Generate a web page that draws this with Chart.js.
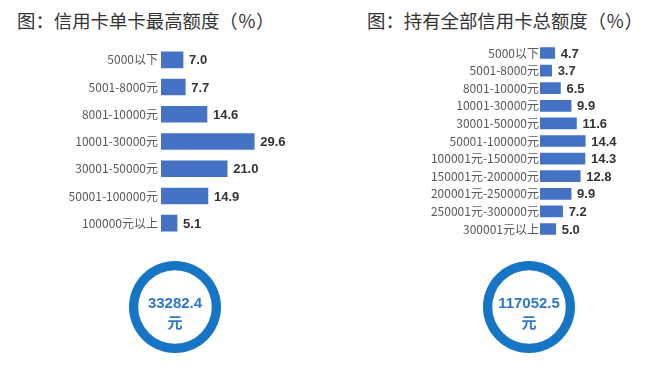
<!DOCTYPE html>
<html>
<head>
<meta charset="utf-8">
<script src="https://cdn.jsdelivr.net/npm/chart.js@4"></script>
<style>
  body { margin: 0; background: #fff; width: 652px; height: 370px; position: relative; overflow: hidden; }
  .title { position: absolute; top: 7px; font: 18.4px "Noto Sans CJK SC", sans-serif; color: #333; white-space: nowrap; line-height: 26px; }
  canvas { position: absolute; }
</style>
</head>
<body>
<div class="title" style="left:17px">图：信用卡单卡最高额度（％）</div>
<div class="title" style="left:367px">图：持有全部信用卡总额度（％）</div>
<canvas id="maxChart" style="left:0;top:36px" width="287" height="211"></canvas>
<canvas id="totalChart" style="left:330px;top:36px" width="320" height="210"></canvas>
<canvas id="maxRing" style="left:129px;top:261px" width="92" height="92"></canvas>
<canvas id="totalRing" style="left:483px;top:261px" width="92" height="92"></canvas>
<script>
const maxLabels = ['5000以下', '5001-8000元', '8001-10000元', '10001-30000元', '30001-50000元', '50001-100000元', '100000元以上'];
const maxValues = [7.0, 7.7, 14.6, 29.6, 21.0, 14.9, 5.1];

const totalLabels = ['5000以下', '5001-8000元', '8001-10000元', '10001-30000元', '30001-50000元', '50001-100000元',
  '100001元-150000元', '150001元-200000元', '200001元-250000元', '250001元-300000元', '300001元以上'];
const totalValues = [4.7, 3.7, 6.5, 9.9, 11.6, 14.4, 14.3, 12.8, 9.9, 7.2, 5.0];

const avgMax = '33282.4';
const avgTotal = '117052.5';

const BAR_BLUE = '#4472C4';
const RING_BLUE = '#1775C6';

// value labels at the end of each bar
const valueLabels = {
  id: 'valueLabels',
  afterDatasetsDraw(chart) {
    const ctx = chart.ctx;
    const ds = chart.data.datasets[0];
    ctx.save();
    ctx.font = 'bold 13px "Liberation Sans", Arial, sans-serif';
    ctx.fillStyle = '#333';
    ctx.textBaseline = 'middle';
    chart.getDatasetMeta(0).data.forEach((bar, i) => {
      ctx.fillText(ds.data[i].toFixed(1), bar.x + 6, bar.y + 1);
    });
    ctx.restore();
  }
};

function barChart(id, labels, values, opts) {
  new Chart(document.getElementById(id), {
    type: 'bar',
    data: {
      labels: labels,
      datasets: [{ data: values, backgroundColor: BAR_BLUE, barThickness: opts.thickness }]
    },
    options: {
      indexAxis: 'y',
      responsive: false,
      animation: false,
      layout: { padding: 0 },
      plugins: { legend: { display: false }, tooltip: { enabled: false } },
      scales: {
        x: { display: false, min: 0, max: opts.max },
        y: {
          grid: { display: false, drawTicks: false },
          border: { display: false },
          ticks: { color: '#595959', padding: opts.pad, font: { family: '"Noto Sans CJK SC", sans-serif', size: 12 } },
          afterFit: s => { s.width = opts.axisWidth; }
        }
      }
    },
    plugins: [valueLabels]
  });
}

barChart('maxChart', maxLabels, maxValues, { thickness: 16, max: 40, axisWidth: 161, pad: 3 });
barChart('totalChart', totalLabels, totalValues, { thickness: 11, max: 35, axisWidth: 210, pad: 1 });

function ringChart(id, amount) {
  new Chart(document.getElementById(id), {
    type: 'doughnut',
    data: { datasets: [{ data: [100], backgroundColor: RING_BLUE, borderWidth: 0 }] },
    options: {
      responsive: false,
      animation: false,
      cutout: '80%',
      plugins: { legend: { display: false }, tooltip: { enabled: false } }
    },
    plugins: [{
      id: 'centerText',
      afterDraw(chart) {
        const a = chart.chartArea;
        const cx = (a.left + a.right) / 2;
        const cy = (a.top + a.bottom) / 2;
        const ctx = chart.ctx;
        ctx.save();
        ctx.fillStyle = '#2E78CA';
        ctx.textAlign = 'center';
        ctx.textBaseline = 'middle';
        ctx.font = 'bold 15px "Liberation Sans", Arial, sans-serif';
        ctx.fillText(amount, cx, cy - 3);
        ctx.font = 'bold 15px "Noto Sans CJK SC", sans-serif';
        ctx.fillText('元', cx, cy + 15);
        ctx.restore();
      }
    }]
  });
}

ringChart('maxRing', avgMax);
ringChart('totalRing', avgTotal);
</script>
</body>
</html>
